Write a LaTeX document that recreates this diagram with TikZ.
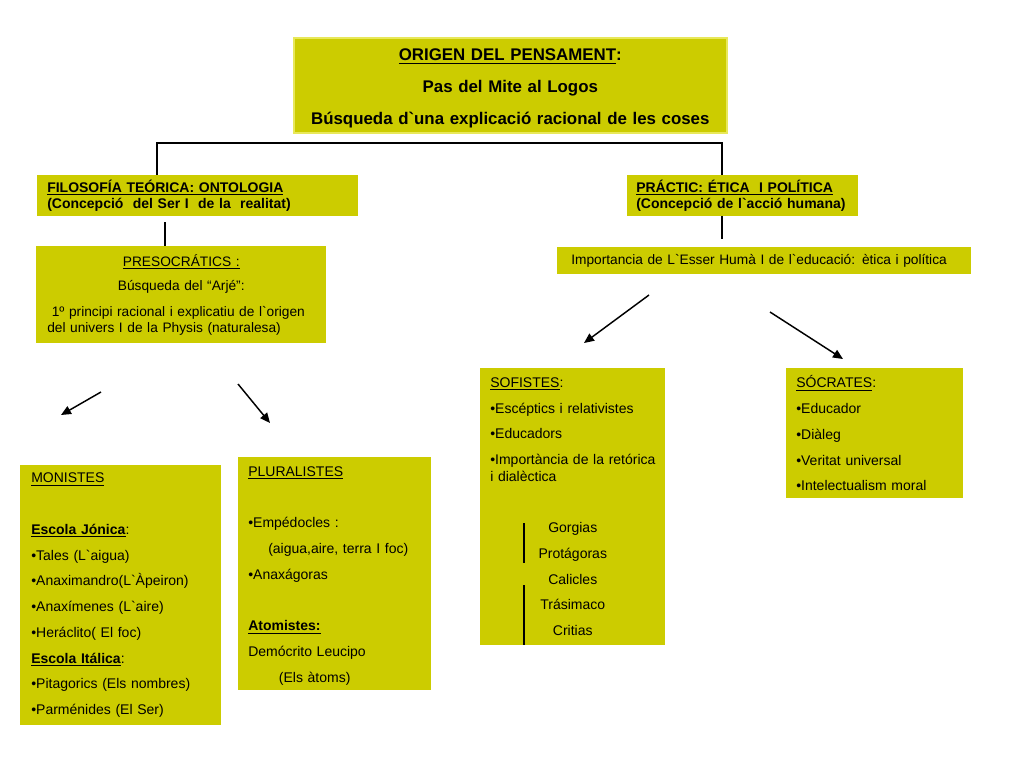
\documentclass[tikz,border=0pt]{standalone}
\usepackage{fontspec}
\setmainfont{Liberation Sans}[Ligatures=TeXOff]
\usetikzlibrary{arrows.meta}
\definecolor{boxfill}{RGB}{204,204,0}
\definecolor{boxedge}{RGB}{232,232,90}
\begin{document}
\begin{tikzpicture}[x=0.75pt,y=-0.75pt,
  box/.style={fill=boxfill, draw=none, anchor=north west, inner ysep=0pt, align=left},
  listfont/.style={font=\fontsize{10.5}{19.3}\selectfont},
  hdrfont/.style={font=\fontsize{10.5}{12}\selectfont\bfseries},
  conn/.style={draw=black, line width=0.9pt},
  arr/.style={draw=black, line width=1.1pt, -{Triangle[length=7.5pt,width=6.5pt]}}]
\useasboundingbox (0,0) rectangle (1024,768);

% top box
\node[box, draw=boxedge, line width=1.2pt, align=center, minimum width=324.75pt, minimum height=71.25pt,
      inner xsep=4.875pt, text width=315pt, font=\fontsize{12.65}{24}\selectfont\bfseries]
  (top) at (293,37)
  {\rule{0pt}{13.8pt}\underline{ORIGEN DEL PENSAMENT}:\\ Pas del Mite al Logos\\ Búsqueda d`una explicació racional de les coses};

% headers
\node[box, hdrfont, minimum width=240.75pt, minimum height=30.75pt, inner xsep=7.5pt, text width=225.75pt]
  (filo) at (37,174.5)
  {\underline{FILOSOFÍA TEÓRICA: ONTOLOGIA}\\(Concepció~ del Ser I~ de la~ realitat)};
\node[box, hdrfont, minimum width=173.25pt, minimum height=30.75pt, inner xsep=6.75pt, text width=159.75pt]
  (prac) at (627,174.5)
  {\underline{PRÁCTIC: ÉTICA~ I POLÍTICA}\\(Concepció de l`acció humana)};

% presocratics
\node[box, font=\fontsize{10.3}{12}\selectfont, minimum width=217.5pt, minimum height=72.75pt, inner xsep=8.25pt, text width=201pt]
  (presoc) at (36,246)
  {\makebox[201pt][c]{\underline{PRESOCRÁTICS :}}\\[6pt]
   \makebox[201pt][c]{Búsqueda del “Arjé”:}\\[7.5pt]
   \mbox{\ 1º principi racional i explicatiu de l`origen}\\
   \mbox{del univers I de la Physis (naturalesa)}};

% importancia
\node[box, font=\fontsize{10.3}{12}\selectfont, minimum width=310.5pt, minimum height=20.25pt, inner xsep=10.5pt, text width=289.5pt]
  (imp) at (557,247)
  {\mbox{Importancia de L`Esser Humà I de l`educació: ètica i política}};

% monistes
\node[box, listfont, minimum width=150.75pt, minimum height=195pt, inner xsep=8.25pt, text width=134.25pt]
  (mon) at (20,465)
  {\underline{MONISTES}\\[19.3pt]
   \underline{\textbf{Escola Jónica}}:\\
   •Tales (L`aigua)\\
   \mbox{•Anaximandro(L`Àpeiron)}\\
   •Anaxímenes (L`aire)\\
   •Heráclito( El foc)\\
   \underline{\textbf{Escola Itálica}}:\\
   \mbox{•Pitagorics (Els nombres)}\\
   •Parménides (El Ser)};

% pluralistes
\node[box, listfont, minimum width=144.75pt, minimum height=174.75pt, inner xsep=7.5pt, text width=129.75pt]
  (plu) at (238,457)
  {\rule{0pt}{10.6pt}\underline{PLURALISTES}\\[19.3pt]
   •Empédocles :\\
   \mbox{\hspace*{15pt}(aigua,aire, terra I foc)}\\
   •Anaxágoras\\[19.3pt]
   \underline{\textbf{Atomistes:}}\\
   Demócrito Leucipo\\
   \hspace*{23pt}(Els àtoms)};

% sofistes
\node[box, listfont, minimum width=138.75pt, minimum height=207.75pt, inner xsep=7.5pt, text width=123.75pt]
  (sof) at (480,368)
  {\underline{SOFISTES}:\\
   \mbox{•Escéptics i relativistes}\\
   •Educadors\\
   \mbox{•Importància de la retórica}\\[-6.5pt]
   i dialèctica\\[19pt]
   \makebox[123.75pt][c]{Gorgias}\\
   \makebox[123.75pt][c]{Protágoras}\\
   \makebox[123.75pt][c]{Calicles}\\
   \makebox[123.75pt][c]{Trásimaco}\\
   \makebox[123.75pt][c]{Critias}};

% socrates
\node[box, listfont, minimum width=132.75pt, minimum height=97.5pt, inner xsep=7.5pt, text width=117.75pt]
  (soc) at (786,368)
  {\underline{SÓCRATES}:\\
   •Educador\\
   •Diàleg\\
   •Veritat universal\\
   \mbox{•Intelectualism moral}};

% connectors
\coordinate (hl) at (157,143);
\coordinate (hr) at (722,143);
\draw[conn] (hl |- filo.north) -- (hl) -- (hr) -- (hr |- prac.north);
\coordinate (v1) at (165,222);
\draw[conn] (v1) -- (v1 |- presoc.north);
\coordinate (v2e) at (722,239);
\draw[conn] (prac.south -| v2e) -- (v2e);

% sofistes brackets
\coordinate (b1s) at (524,523); \coordinate (b1e) at (524,563);
\coordinate (b2s) at (524,585); \coordinate (b2e) at (524,645);
\draw[conn] (b1s) -- (b1e);
\draw[conn] (b2s) -- (b2e);

% arrows
\coordinate (a1s) at (101,392); \coordinate (a1e) at (61,415);
\coordinate (a2s) at (238,384); \coordinate (a2e) at (270,423);
\coordinate (a3s) at (649,295); \coordinate (a3e) at (584,343);
\coordinate (a4s) at (770,312); \coordinate (a4e) at (843,359);
\draw[arr] (a1s) -- (a1e);
\draw[arr] (a2s) -- (a2e);
\draw[arr] (a3s) -- (a3e);
\draw[arr] (a4s) -- (a4e);
\end{tikzpicture}
\end{document}
